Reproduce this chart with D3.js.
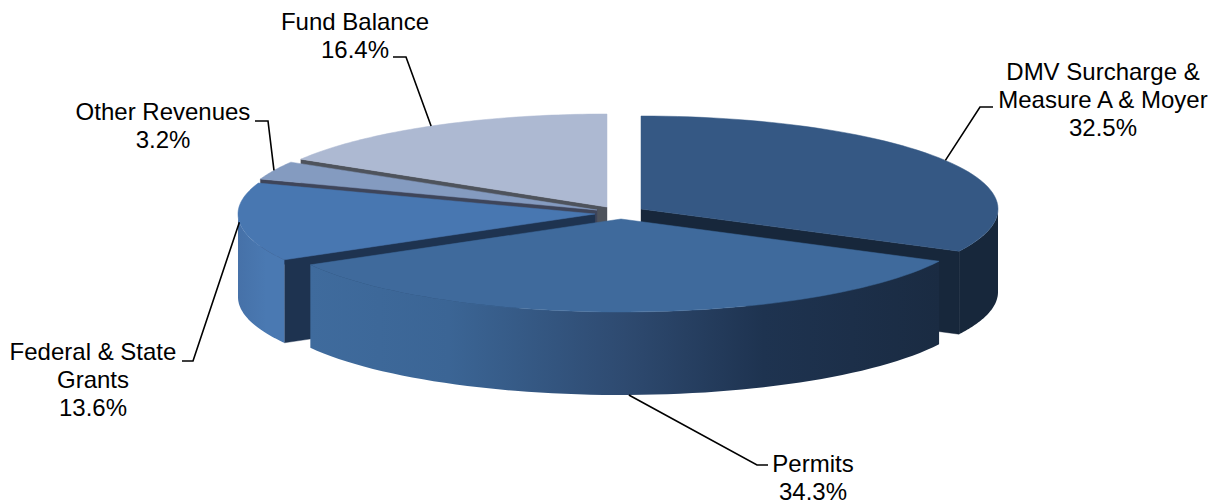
<!DOCTYPE html>
<html>
<head>
<meta charset="utf-8">
<script src="https://cdn.jsdelivr.net/npm/d3@7"></script>
<style>
html,body{margin:0;padding:0;background:#fff;}
svg{display:block;}
text{font-family:"Liberation Sans",Arial,sans-serif;font-size:24px;fill:#000;text-anchor:middle;}
</style>
</head>
<body>
<svg id="chart" width="1223" height="504"></svg>
<script>
// Data
const categories = ["DMV Surcharge & Measure A & Moyer","Permits","Federal & State Grants","Other Revenues","Fund Balance"];
const shares = [32.5,34.3,13.6,3.2,16.4];
const labelLines = [["DMV Surcharge &","Measure A & Moyer","32.5%"],["Permits","34.3%"],["Federal & State","Grants","13.6%"],["Other Revenues","3.2%"],["Fund Balance","16.4%"]];

// Styling / layout
const topColors = ["#355884","#3f6a9c","#4877b1","#849bc0","#adb9d2"];
const faceColors = ["#17273b","#17273b","#1e3350","#3e455a","#4e535c"];
const apexes = [[641,209],[621,219],[595,214],[597,210],[607,207]];
const labelAnchors = [[1103,80],[813,472],[93,360],[163,120],[355,30]];
const elbows = [[[993,107],[980,107]],[[768,465],[757,465]],[[182,361],[193,361]],[[255,121],[268,121]],[[393,57],[406,57]]];
const rimAnchored = [false,true,false,false,false];
const wallGradients = [
  [[0,"#17273b"],[1,"#17273b"]],
  [[0,"#3f6b9d"],[.22,"#3b6595"],[.5,"#2e4a70"],[.72,"#1e3350"],[1,"#1a2b42"]],
  [[0,"#4671a8"],[.6,"#4a79b2"],[1,"#4a79b2"]],
  [[0,"#849bc0"],[1,"#849bc0"]],
  [[0,"#adb9d2"],[1,"#adb9d2"]]
];
const wallSpans = [[641,998],[310,940],[238,285],[260,290],[300,607]];
const drawOrder = [4,3,2,0,1];
const depth = 83;

const svg = d3.select("#chart");
const defs = svg.append("defs");
const sx = d3.scaleLinear().domain([-1,1]).range([-357,357]);
const sy = d3.scaleLinear().domain([-1,1]).range([-93,93]);
const pie = d3.pie().sort(null).value(d=>d).startAngle(0).endAngle(2*Math.PI);
const arcs = pie(shares);
const line = d3.line();
const rim = (i,a,dz=0)=>[apexes[i][0]+sx(Math.sin(a)),apexes[i][1]-sy(Math.cos(a))+dz];
const sample = (a0,a1)=>d3.range(0,61).map(k=>a0+(a1-a0)*k/60);

wallGradients.forEach((stops,i)=>{
  const g = defs.append("linearGradient").attr("id","wall"+i).attr("gradientUnits","userSpaceOnUse")
    .attr("x1",wallSpans[i][0]).attr("x2",wallSpans[i][1]).attr("y1",0).attr("y2",0);
  stops.forEach(s=>g.append("stop").attr("offset",s[0]).attr("stop-color",s[1]));
});

const pieG = svg.append("g");
drawOrder.forEach(i=>{
  const d = arcs[i], a0=d.startAngle, a1=d.endAngle;
  const g = pieG.append("g").attr("class","slice").datum(categories[i]);
  const A = apexes[i];
  const face = a=>{
    g.append("path").attr("fill",faceColors[i]).attr("stroke",faceColors[i]).attr("stroke-width",.4)
     .attr("d",line([A,rim(i,a),rim(i,a,depth),[A[0],A[1]+depth]])+"Z");
  };
  if(Math.sin(a0)<-1e-6) face(a0);
  if(Math.sin(a1)>1e-6) face(a1);
  const w0=Math.max(a0,Math.PI/2), w1=Math.min(a1,3*Math.PI/2);
  if(w1>w0){
    const pts = sample(w0,w1);
    const outer = pts.map(a=>rim(i,a)).concat(pts.slice().reverse().map(a=>rim(i,a,depth)));
    g.append("path").attr("fill",`url(#wall${i})`).attr("d",line(outer)+"Z");
  }
  const top=[A].concat(sample(a0,a1).map(a=>rim(i,a)));
  g.append("path").attr("fill",topColors[i]).attr("stroke",topColors[i]).attr("stroke-width",.5).attr("d",line(top)+"Z");
});

// leaders and labels
arcs.forEach((d,i)=>{
  const mid=(d.startAngle+d.endAngle)/2;
  const tip=rim(i,mid,rimAnchored[i]?depth:0);
  svg.append("path").attr("fill","none").attr("stroke","#000").attr("stroke-width",1.6)
    .attr("d",line(elbows[i].concat([tip])));
  const t=svg.append("text").attr("x",labelAnchors[i][0]).attr("y",labelAnchors[i][1]);
  labelLines[i].forEach((s,k)=>t.append("tspan").attr("x",labelAnchors[i][0]).attr("y",labelAnchors[i][1]+k*28).text(s));
});
</script>
</body>
</html>
